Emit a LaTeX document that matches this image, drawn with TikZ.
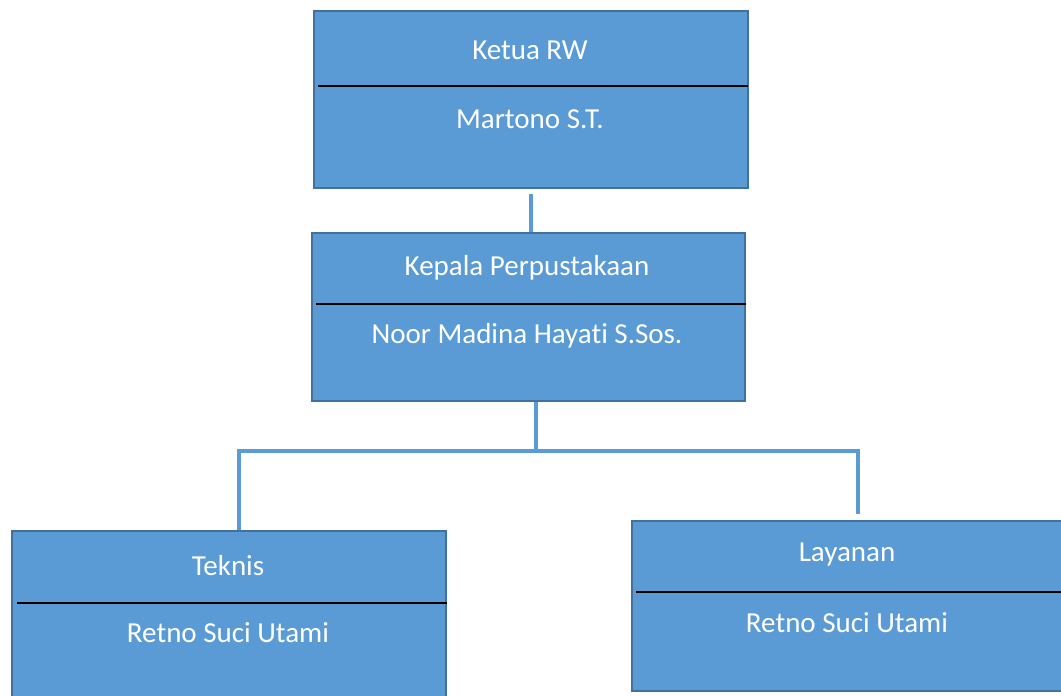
\documentclass[tikz,border=0pt]{standalone}
\usepackage{fontspec}
\setmainfont{Carlito}[Ligatures=NoCommon]
\definecolor{boxblue}{HTML}{5B9BD5}
\definecolor{boxedge}{HTML}{41719C}

\begin{document}
\begin{tikzpicture}[x=1pt,y=-1pt,
    unit/.style={draw=boxedge,line width=2pt,fill=boxblue,inner sep=0pt,anchor=north west},
    txt/.style={text=white,font=\fontsize{29}{34}\selectfont},
    link/.style={draw=boxblue,line width=4.5pt},
    divider/.style={black,line width=1.3pt}]

      \useasboundingbox (0,0) rectangle (1061,696);

      % the four boxes of the chart
      \node[unit,minimum width=434pt,minimum height=177pt] (rw) at (313,10) {};
      \node[unit,minimum width=433pt,minimum height=168pt] (kp) at (311,232) {};
      \node[unit,minimum width=434pt,minimum height=172pt] (tek) at (11,530) {};
      \node[unit,minimum width=440pt,minimum height=170pt] (lay) at (631,520) {};

      % a line across each box, under its title
      \draw[divider] (318,86) -- (748,86);
      \draw[divider] (316,304) -- (746,304);
      \draw[divider] (17,603) -- (447,603);
      \draw[divider] (636,592) -- (1061,592);

      % titles and names
      \node[txt] (rwtitle) at (530,50) {Ketua RW};
      \node[txt] (rwname) at (530,119) {Martono S.T.};
      \node[txt] (kptitle) at (527,268) {Kepala Perpustakaan};
      \node[txt] (kpname) at (527,336) {Noor Madina Hayati S.Sos.};
      \node[txt] (tektitle) at (228,566) {Teknis};
      \node[txt] (tekname) at (228,633) {Retno Suci Utami};
      \node[txt] (laytitle) at (847,555) {Layanan};
      \node[txt] (layname) at (847,623) {Retno Suci Utami};

      % connectors
      \coordinate (fork) at (536,451);
      \coordinate (forkl) at (239,451);
      \coordinate (forkr) at (858,451);

      \draw[link,shorten <=5pt] (rw.south) -- (rw.south |- kp.north);
      \draw[link] (kp.south -| fork) -- (fork);
      \draw[link,line cap=rect] (forkl) -- (forkr);
      \draw[link] (forkl) -- (forkl |- tek.north);
      \draw[link] (forkr) -- ([yshift=6pt]forkr |- lay.north);

\end{tikzpicture}
\end{document}
